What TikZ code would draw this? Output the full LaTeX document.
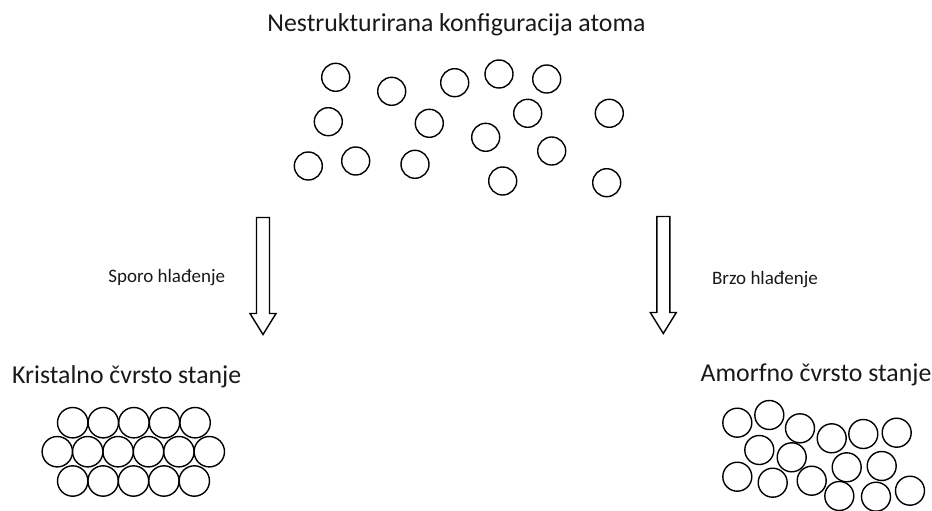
\documentclass[tikz,border=0pt]{standalone}
\usepackage{fontspec}
\setmainfont{Carlito}
\begin{document}
\begin{tikzpicture}[x=1pt,y=-1pt,
  atom/.style={circle, draw, line width=1.4pt, minimum size=#1, inner sep=0pt},
  atom/.default=28,
  pfeil/.style={draw, line width=1.4pt, line join=miter},
  titel/.style={font=\fontsize{25.8}{30}\selectfont, text=black!90},
  klein/.style={font=\fontsize{19}{22}\selectfont, text=black!90}]
\useasboundingbox (0,0) rectangle (932,511);
% Texte
\node[titel] (nestr) at (456.5,25) {Nestrukturirana konfiguracija atoma};
\node[titel] (krist) at (126.7,377) {Kristalno čvrsto stanje};
\node[titel] (amorf) at (816,374.5) {Amorfno čvrsto stanje};
\node[klein] (sporo) at (166.7,278) {Sporo hlađenje};
\node[klein] (brzo) at (765,280) {Brzo hlađenje};
% Atome oben
\foreach \n/\x/\y in {1/335.7/77.3, 2/391.7/91.3, 3/454.7/82.7, 4/499/74, 5/546.7/79,
  6/328.3/121.7, 7/429.3/123.3, 8/527.7/113.3, 9/609.3/113.3, 10/485.7/137.3,
  11/308.3/166, 12/355.7/161, 13/415/164.3, 14/551.7/151, 15/502.7/181, 16/606.7/182.7}
  \node[atom] (o\n) at (\x,\y) {};
% Pfeile
\coordinate (s1) at (263,217.5);
\coordinate (s2) at (663.3,216.5);
\foreach \p in {s1,s2}
  \draw[pfeil] (\p) ++(-6.5,0) -- ++(13,0) -- ++(0,96) -- ++(6.5,0) -- ++(-13,21)
    -- ++(-13,-21) -- ++(6.5,0) -- cycle;
% Kristall
\foreach \i in {0,...,4} {
  \node[atom=30.4] (ka\i) at (72.7+30.6*\i,422.7) {};
  \node[atom=30.4] (kc\i) at (72.7+30.4*\i,481) {};
}
\foreach \i in {0,...,5}
  \node[atom=30.4] (kb\i) at (57.3+30.4*\i,451.7) {};
% Amorph
\foreach \n/\x/\y in {1/737.3/422.7, 2/769.3/415, 3/800/428.3, 4/831.7/438.3, 5/863.3/434,
  6/896.7/432.7, 7/759.3/450, 8/791.7/457.3, 9/846.7/467.3, 10/881.7/466,
  11/737.3/476.7, 12/772.7/482.7, 13/811.7/480.7, 14/839.3/496, 15/876/496.7, 16/910/490.7}
  \node[atom=29] (a\n) at (\x,\y) {};
\end{tikzpicture}
\end{document}
